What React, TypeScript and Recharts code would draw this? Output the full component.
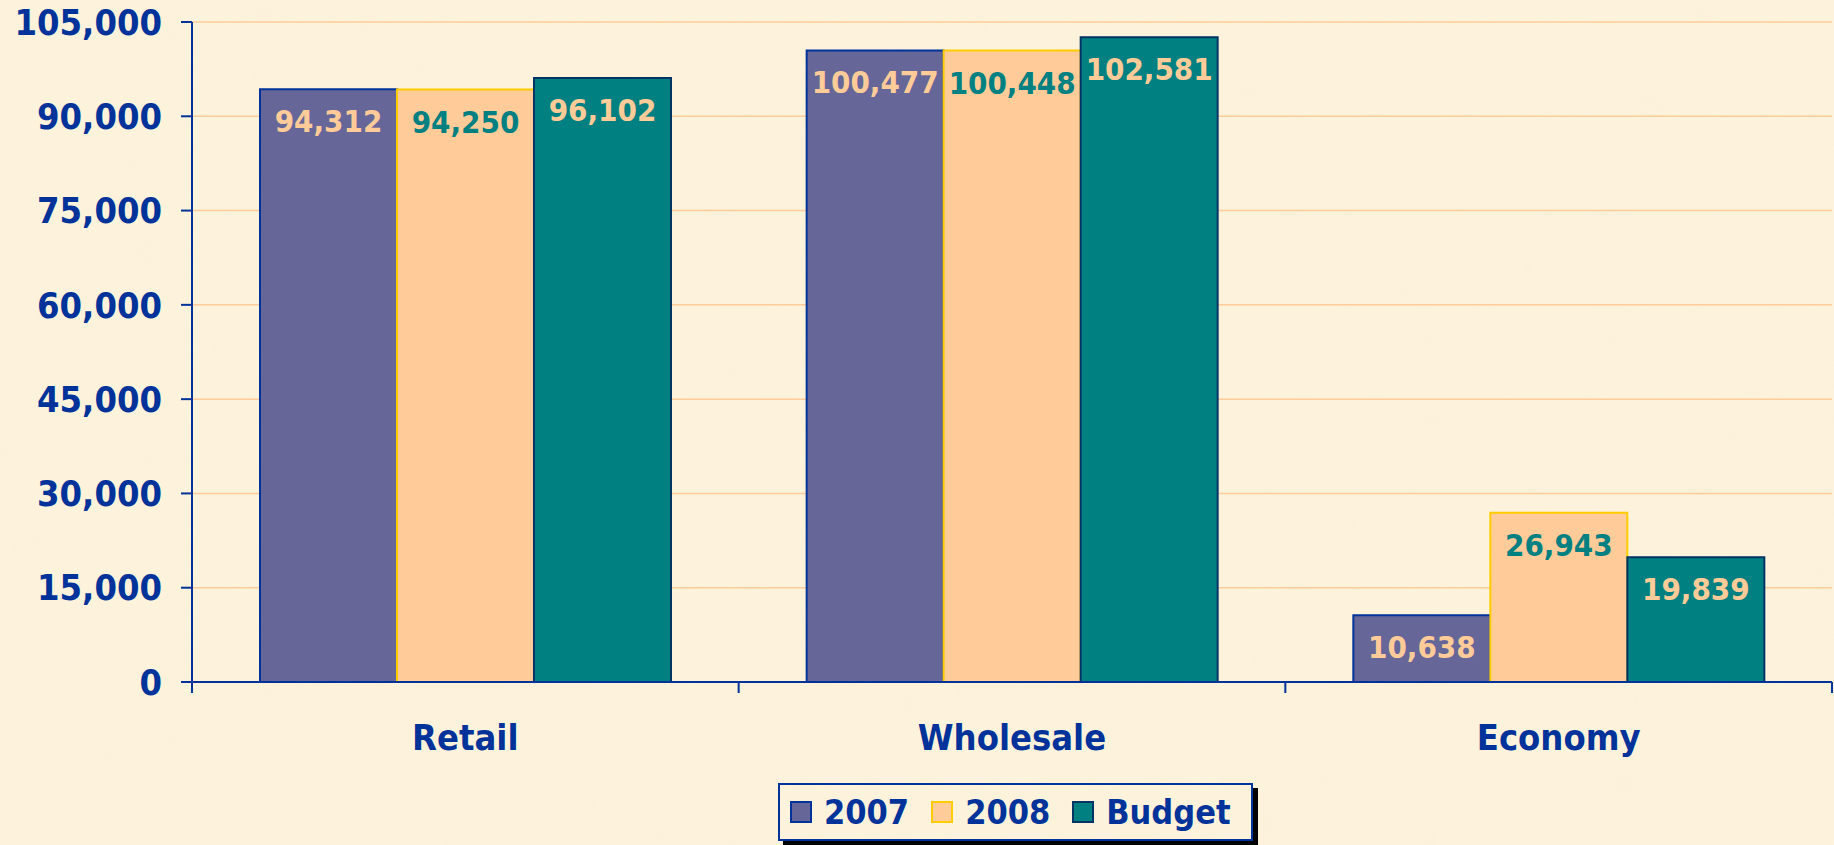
import React from "react";
import { BarChart, Bar, XAxis, YAxis, CartesianGrid, LabelList } from "recharts";

const categories = ["Retail", "Wholesale", "Economy"];
const values2007 = [94312, 100477, 10638];
const values2008 = [94250, 100448, 26943];
const valuesBudget = [96102, 102581, 19839];
const yTicks = [0, 15000, 30000, 45000, 60000, 75000, 90000, 105000];
const seriesNames = ["2007", "2008", "Budget"];

const data = categories.map((c, i) => ({
  name: c,
  v2007: values2007[i],
  v2008: values2008[i],
  budget: valuesBudget[i],
}));

const FONT = '"DejaVu Sans Condensed", "DejaVu Sans", sans-serif';
const BLUE = "#003399";
const W = 1834;
const H = 845;
const MARGIN = { top: 22, right: 2, bottom: 73, left: 0 };
const YW = 192;
const XH = 90;
const TICK = 11;
const XMARGIN = 31;
const plotW = W - MARGIN.left - MARGIN.right - YW;
const band = plotW / categories.length;

const fmt = (v: number) => v.toLocaleString("en-US");

const XTick = (props: any) => {
  const { x, y, payload, index } = props;
  const axisY = y - TICK - XMARGIN;
  const left = x - band / 2;
  const right = x + band / 2;
  return (
    <g>
      <line x1={left} y1={axisY} x2={left} y2={axisY + TICK} stroke={BLUE} strokeWidth={2} />
      {index === categories.length - 1 && (
        <line x1={right} y1={axisY} x2={right} y2={axisY + TICK} stroke={BLUE} strokeWidth={2} />
      )}
      <text x={x} y={y + 26} textAnchor="middle" fill={BLUE} fontSize={36} fontWeight="bold" fontFamily={FONT}>
        {payload.value}
      </text>
    </g>
  );
};

const legendItems = [
  { name: seriesNames[0], fill: "#666699", stroke: "#003399" },
  { name: seriesNames[1], fill: "#FFCC99", stroke: "#FFCC00" },
  { name: seriesNames[2], fill: "#008080", stroke: "#003366" },
];

export default function App() {
  return (
    <div style={{ position: "relative", width: W, height: H, background: "#FDF3DC", overflow: "hidden" }}>
      <style>{`body{margin:0}`}</style>
      <svg width={W} height={H} style={{ position: "absolute", left: 0, top: 0 }}>
        <defs>
          <filter id="paper" x="0" y="0" width="100%" height="100%">
            <feTurbulence type="fractalNoise" baseFrequency="0.025" numOctaves={3} seed={4} />
            <feColorMatrix
              type="matrix"
              values="0 0 0 0 0.93  0 0 0 0 0.86  0 0 0 0 0.66  0 0 0 -1.6 0.95"
            />
          </filter>
        </defs>
        <rect width={W} height={H} filter="url(#paper)" opacity={0.22} />
      </svg>
      <div style={{ position: "absolute", left: 0, top: 0 }}>
        <BarChart
          width={W}
          height={H}
          data={data}
          margin={MARGIN}
          barCategoryGap={68}
          barGap={0}
        >
          <CartesianGrid vertical={false} stroke="#FFCC99" strokeWidth={1.5} />
          <XAxis
            dataKey="name"
            height={XH}
            axisLine={{ stroke: BLUE, strokeWidth: 2 }}
            tickLine={false}
            tickSize={TICK}
            tickMargin={XMARGIN}
            tick={<XTick />}
            interval={0}
          />
          <YAxis
            width={YW}
            domain={[0, 105000]}
            ticks={yTicks}
            tickFormatter={fmt}
            axisLine={{ stroke: BLUE, strokeWidth: 2 }}
            tickLine={{ stroke: BLUE, strokeWidth: 2 }}
            tickSize={TICK}
            tickMargin={19}
            tick={{ fill: BLUE, fontSize: 36, fontWeight: "bold", fontFamily: FONT }}
            interval={0}
          />
          <Bar dataKey="v2007" name={seriesNames[0]} fill="#666699" stroke="#003399" strokeWidth={2} isAnimationActive={false}>
            <LabelList dataKey="v2007" position="insideTop" offset={21} formatter={fmt as any} fill="#FFCC99" fontSize={31} fontWeight="bold" fontFamily={FONT} />
          </Bar>
          <Bar dataKey="v2008" name={seriesNames[1]} fill="#FFCC99" stroke="#FFCC00" strokeWidth={2} isAnimationActive={false}>
            <LabelList dataKey="v2008" position="insideTop" offset={21} formatter={fmt as any} fill="#008080" fontSize={31} fontWeight="bold" fontFamily={FONT} />
          </Bar>
          <Bar dataKey="budget" name={seriesNames[2]} fill="#008080" stroke="#003366" strokeWidth={2} isAnimationActive={false}>
            <LabelList dataKey="budget" position="insideTop" offset={21} formatter={fmt as any} fill="#FFCC99" fontSize={31} fontWeight="bold" fontFamily={FONT} />
          </Bar>
        </BarChart>
      </div>
      <div
        style={{
          position: "absolute",
          left: 778,
          top: 783,
          width: 475,
          height: 58,
          boxSizing: "border-box",
          border: `2px solid ${BLUE}`,
          boxShadow: "5px 5px 0 #000",
          background: "transparent",
          display: "flex",
          alignItems: "center",
          paddingLeft: 10,
          fontFamily: FONT,
          fontWeight: "bold",
          fontSize: 34,
          color: BLUE,
        }}
      >
        {legendItems.map((it, i) => (
          <div key={it.name} style={{ display: "flex", alignItems: "center", marginRight: i < 2 ? 22 : 0 }}>
            <span
              style={{
                display: "inline-block",
                width: 22,
                height: 22,
                boxSizing: "border-box",
                border: `2px solid ${it.stroke}`,
                background: it.fill,
                marginRight: 12,
              }}
            />
            <span style={{ lineHeight: 1 }}>{it.name}</span>
          </div>
        ))}
      </div>
    </div>
  );
}
